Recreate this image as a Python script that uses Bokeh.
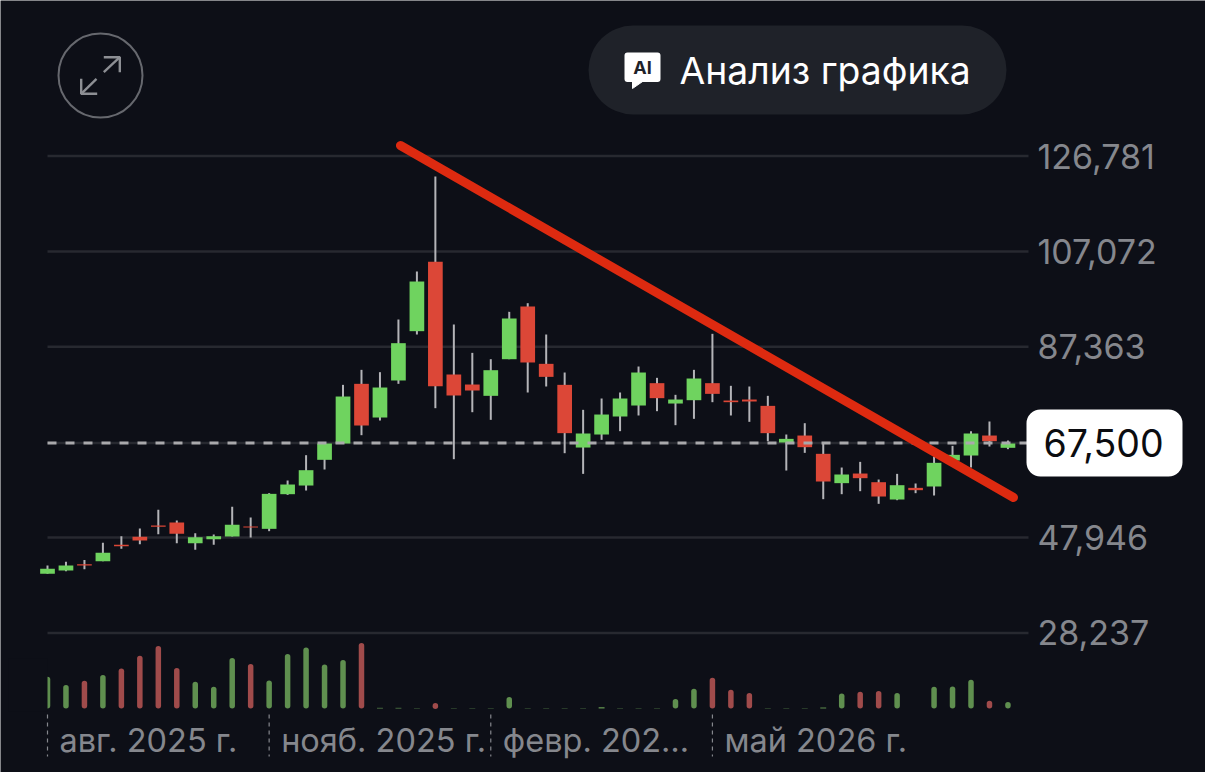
from bokeh.plotting import figure
from bokeh.embed import file_html
from bokeh.resources import INLINE
from bokeh.core.properties import value
from bokeh.models import LinearAxis, FixedTicker, Range1d, CustomJSTickFormatter

BG = "#0d0f17"
UP = "#6fd35f"
DOWN = "#dc4737"
VOL_UP = "#5f8f4f"
VOL_DOWN = "#a04b4b"
FONT = "Inter"
MUTED = "#85878d"

opens = [40450,41140,42450,43070,46440,48100,50440,51060,46790,47610,48170,50230,49750,56910,58700,64010,67380,79710,72750,80400,90590,104910,81640,79570,77230,84800,95690,83840,79500,66550,69240,72960,75230,79850,75640,76330,79850,76260,76470,75160,67590,69030,65250,59190,61180,59390,55810,58220,58500,63870,64900,69030,66490]
highs = [42170,42930,43340,46860,48230,49820,53680,51470,48850,48580,54300,52090,57120,59740,64970,67660,79500,82600,82120,93000,102920,122550,91970,86110,84800,94580,96370,89900,82050,74340,76680,77920,83290,80950,77440,82600,90040,79300,79160,77230,69240,71580,67450,62420,63590,59940,61110,59120,64690,66900,69930,71930,68000]
lows = [40450,41000,41420,43070,45620,46580,48650,46790,45410,46440,48170,47960,49270,56770,57670,62010,67380,69100,72130,79710,89900,74680,64140,73850,72270,84800,77920,79160,65380,61110,68140,69930,73170,74060,71170,72480,75920,73170,71860,67860,61800,65450,55880,56910,57530,54920,55670,57120,56640,63870,62420,66760,66210]
closes = [41490,42170,42170,44790,46170,47340,50160,48720,48030,48230,50580,50030,56980,58910,61870,67380,77090,71100,78950,88110,100850,79230,77300,78330,82530,93210,84120,81150,69520,69450,73370,76680,82050,76750,76470,80810,77640,75920,76060,69520,68340,66620,59530,60980,60220,56430,58770,57740,63390,65040,69450,67860,67380]
volumes = [95,70,83,100,120,158,187,121,80,65,151,133,84,163,183,132,145,196,2,2,1,15,1,1,1,34,1,1,1,1,4,1,1,1,28,59,92,56,46,1,1,1,3,45,50,52,46,0,65,66,86,23,19]
volume_colors = ["g","g","r","g","r","r","r","r","g","g","g","r","g","g","g","g","g","r","g","g","g","r","g","g","g","g","g","g","g","g","g","g","g","g","g","g","r","r","r","g","g","g","g","g","r","r","g","g","g","g","g","r","g"]

price_ticks = [126781, 107072, 87363, 47946, 28237]
last_price = 67500
time_ticks = [0, 12, 24, 36]
time_labels = ["авг. 2025 г.", "нояб. 2025 г.", "февр. 202…", "май 2026 г."]
trend_x = [19.11, 52.3]
trend_y = [128950, 56228]

# reference pixel layout -> data
STEP = 18.47
def X(px): return (px - 47) / STEP
def Y(px): return 126781 - (px - 155.5) * 206.6

W, H = 1205, 772
GRID_END = 1028
p = figure(frame_width=W, frame_height=H, output_backend="svg", toolbar_location=None,
           x_range=Range1d(X(0), X(W)), y_range=Range1d(Y(H), Y(0)),
           background_fill_color=BG, border_fill_color=BG,
           min_border_left=0, min_border_top=0, min_border_bottom=0, min_border_right=0)
p.outline_line_color = None
p.xaxis.visible = False
p.yaxis.visible = False
p.xgrid.visible = False
p.ygrid.visible = False
p.extra_y_ranges = {"vol": Range1d((708 - H) * 3, (708 - 0) * 3)}

axis = LinearAxis(ticker=FixedTicker(ticks=price_ticks))
axis.formatter = CustomJSTickFormatter(code="return tick.toLocaleString('en-US')")
axis.major_tick_line_color = None
axis.minor_tick_line_color = None
axis.axis_line_color = None
axis.major_label_standoff = 1031 - W
axis.major_label_text_color = MUTED
axis.major_label_text_font = FONT
axis.major_label_text_font_size = "34px"
p.add_layout(axis, "right")

GRID = "#272930"
all_levels = price_ticks + [last_price]
p.segment([0] * 6, all_levels, [X(GRID_END)] * 6, all_levels, line_color=GRID, line_width=2.5)

# volume bars
tall = [i for i, v in enumerate(volumes) if v >= 10]
tiny = [i for i, v in enumerate(volumes) if 0 < v < 10]
col = [VOL_UP if c == "g" else VOL_DOWN for c in volume_colors]
r = 8
p.segment(tall, [r] * len(tall), tall, [volumes[i] - r for i in tall],
          line_color=[col[i] for i in tall], line_width=5.5, line_cap="round", y_range_name="vol")
p.vbar(tiny, width=0.32, top=[volumes[i] for i in tiny], bottom=0,
       fill_color=[col[i] for i in tiny], line_color=None, y_range_name="vol")
p.quad(left=X(8), right=0, bottom=-10, top=150, fill_color=BG, line_color=None, y_range_name="vol")

# time ticks and labels
for t in time_ticks:
    p.segment([t], [Y(714)], [t], [Y(756)], line_color=MUTED, line_width=1.2, line_dash="4 4")
p.text(time_ticks, [Y(740)] * 4, text=time_labels, x_offset=12, text_align="left", text_baseline="middle",
       text_color=MUTED, text_font=value(FONT), text_font_size="32.5px")

# candles
idx = list(range(len(opens)))
colors = [UP if c >= o else DOWN for o, c in zip(opens, closes)]
p.segment(idx, highs, idx, lows, line_color="#b4b4b8", line_width=2)
p.vbar(idx, width=14.7 / STEP, top=[max(o, c) for o, c in zip(opens, closes)],
       bottom=[min(o, c) for o, c in zip(opens, closes)], fill_color=colors, line_color=None)

# last price dashes
p.segment([0], [last_price], [X(GRID_END)], [last_price], line_color="#a9a9ac", line_width=3, line_dash="9 9")

# trend line
p.line(trend_x, trend_y, line_color="#dd2a10", line_width=9, line_cap="round")

# expand icon
p.scatter([X(100)], [Y(75)], size=84, marker="circle", fill_color=None, line_color="#66686e", line_width=2)
p.multi_line([[X(103.3), X(119.3)], [X(103.3), X(119.3), X(119.3)], [X(96), X(80.7)], [X(80.7), X(80.7), X(96.7)]],
             [[Y(71.7), Y(56.7)], [Y(56.7), Y(56.7), Y(71.7)], [Y(78.3), Y(93.3)], [Y(78.3), Y(93.3), Y(93.3)]],
             line_color="#8d8f94", line_width=2.4)

# AI button
p.line([X(632.5), X(961.5)], [Y(69.5), Y(69.5)], line_color="#1f2229", line_width=89, line_cap="round")
p.quad(left=X(627), right=X(657), top=Y(55), bottom=Y(78.5), fill_color="white", line_color="white",
       line_width=6, line_join="round")
p.patch([X(632), X(632), X(645)], [Y(79), Y(88), Y(79)], fill_color="white", line_color="white", line_width=1)
p.text([X(642)], [Y(67)], text=["AI"], text_align="center", text_baseline="middle", text_color="#1f2229",
       text_font=value(FONT), text_font_style="bold", text_font_size="18px")
p.text([X(679)], [Y(69.5)], text=["Анализ графика"], text_align="left", text_baseline="middle",
       text_color="white", text_font=value(FONT), text_font_size="37.3px")

# last price badge
p.quad(left=X(1040), right=X(1168), top=Y(423), bottom=Y(462), fill_color="white", line_color="white",
       line_width=28, line_join="round")
p.text([X(1103)], [last_price], text=[f"{last_price:,}"], text_align="center", text_baseline="middle",
       text_color="#0b0c10", text_font=value(FONT), text_font_size="37.5px")

open("out.html", "w").write(file_html(p, INLINE))
